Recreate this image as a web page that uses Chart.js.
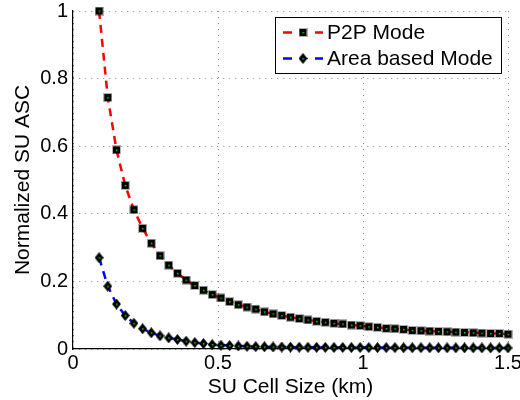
<!DOCTYPE html>
<html><head><meta charset="utf-8">
<script src="https://cdn.jsdelivr.net/npm/chart.js@4/dist/chart.umd.min.js"></script>
<style>html,body{margin:0;padding:0;background:#fff}#wrap{width:520px;height:400px}</style>
</head><body><div id="wrap"><canvas id="c" width="520" height="400"></canvas></div>
<script>
const cellSize = [0.09,0.12,0.15,0.18,0.21,0.24,0.27,0.30,0.33,0.36,0.39,0.42,0.45,0.48,0.51,0.54,0.57,0.60,
  0.63,0.66,0.69,0.72,0.75,0.78,0.81,0.84,0.87,0.90,0.93,0.96,0.99,1.02,1.05,1.08,1.11,1.14,1.17,1.20,
  1.23,1.26,1.29,1.32,1.35,1.38,1.41,1.44,1.47,1.50];
const p2pMode = [1.000,0.744,0.589,0.484,0.412,0.357,0.313,0.276,0.248,0.224,0.204,0.188,0.174,0.161,0.151,0.140,0.131,0.124,
  0.118,0.110,0.104,0.099,0.094,0.090,0.086,0.082,0.079,0.076,0.074,0.071,0.069,0.066,0.064,0.061,0.060,0.058,0.055,0.054,
  0.053,0.052,0.051,0.050,0.049,0.048,0.047,0.046,0.046,0.044];
const areaMode = [0.270,0.186,0.133,0.099,0.076,0.060,0.048,0.039,0.033,0.028,0.023,0.019,0.016,0.013,0.011,0.010,0.009,0.008,
  0.0070,0.0065,0.0060,0.0058,0.0055,0.0053,0.0050,0.0049,0.0047,0.0046,0.0045,0.0044,0.0043,0.0042,0.0041,0.0040,0.0039,0.0038,0.0038,0.0037,
  0.0036,0.0036,0.0035,0.0035,0.0034,0.0034,0.0033,0.0033,0.0032,0.0032];
const seriesLabels = ['P2P Mode', 'Area based Mode'];
const xTicks = [0, 0.5, 1, 1.5];
const xTickLabels = ['0', '0.5', '1', '1.5'];
const yTicks = [0, 0.2, 0.4, 0.6, 0.8, 1];
const yTickLabels = ['0', '0.2', '0.4', '0.6', '0.8', '1'];
const xTitle = 'SU Cell Size (km)';
const yTitle = 'Normalized SU ASC';

const FONT = "'Liberation Sans', Arial, Helvetica, sans-serif";
Chart.defaults.font.family = FONT;
Chart.defaults.color = '#000';

function makeSquare() {
  const c = document.createElement('canvas'); c.width = 9; c.height = 9;
  const g = c.getContext('2d');
  g.fillStyle = 'rgba(0,0,0,0.3)'; g.fillRect(0, 0, 9, 9);
  g.fillStyle = '#000'; g.fillRect(1, 1, 7, 7);
  g.fillStyle = '#00e000'; g.fillRect(4, 4, 1.5, 1.5);
  return c;
}
function makeDiamond() {
  const c = document.createElement('canvas'); c.width = 9; c.height = 11;
  const g = c.getContext('2d');
  g.fillStyle = '#000';
  g.beginPath(); g.moveTo(4.5, 0); g.lineTo(9, 5.5); g.lineTo(4.5, 11); g.lineTo(0, 5.5); g.closePath(); g.fill();
  g.fillStyle = '#00e000'; g.fillRect(4, 5, 1.5, 1.5);
  return c;
}
const sq = makeSquare();
const dm = makeDiamond();

const boxLegend = {
  id: 'boxLegend',
  afterDraw(chart) {
    const ctx = chart.ctx;
    const x0 = 275.5, y0 = 17.5, w = 226, h = 56;
    ctx.save();
    ctx.fillStyle = '#fff'; ctx.fillRect(x0, y0, w, h);
    ctx.strokeStyle = '#000'; ctx.lineWidth = 1; ctx.strokeRect(x0, y0, w, h);
    chart.data.datasets.forEach((ds, i) => {
      const cy = 32.5 + i * 26;
      ctx.strokeStyle = ds.borderColor; ctx.lineWidth = 2.5; ctx.setLineDash([]);
      ctx.beginPath(); ctx.moveTo(283, cy); ctx.lineTo(292, cy); ctx.moveTo(315, cy); ctx.lineTo(323, cy); ctx.stroke();
      const img = ds.pointStyle;
      ctx.drawImage(img, 303 - img.width / 2, cy - img.height / 2);
      ctx.fillStyle = '#000'; ctx.font = '21px ' + FONT; ctx.textBaseline = 'middle'; ctx.textAlign = 'left';
      ctx.fillText(ds.label, 327, cy + 1);
    });
    ctx.restore();
  }
};

new Chart(document.getElementById('c'), {
  type: 'line',
  data: {
    datasets: [
      { label: seriesLabels[0], data: cellSize.map((x, i) => ({ x: x, y: p2pMode[i] })),
        borderColor: '#ff0000', borderWidth: 2.5, borderDash: [8, 6], pointStyle: sq, pointRadius: 4,
        tension: 0, fill: false, clip: false },
      { label: seriesLabels[1], data: cellSize.map((x, i) => ({ x: x, y: areaMode[i] })),
        borderColor: '#0000ff', borderWidth: 2.5, borderDash: [8, 6], pointStyle: dm, pointRadius: 4,
        tension: 0, fill: false, clip: false }
    ]
  },
  options: {
    responsive: false, animation: false, devicePixelRatio: 1,
    layout: { padding: { left: 0, top: 11, right: 12, bottom: 0 } },
    plugins: { legend: { display: false }, tooltip: { enabled: false } },
    scales: {
      x: {
        type: 'linear', min: 0, max: 1.5,
        afterBuildTicks: s => { s.ticks = xTicks.map(v => ({ value: v })); },
        afterFit: s => { s.height = 51; s.paddingRight = 0; s.paddingLeft = 0; },
        grid: { color: '#8a8a8a', lineWidth: 1, drawTicks: false },
        border: { color: '#000', width: 1.2, dash: [1, 5] },
        ticks: { color: '#000', font: { size: 20 }, padding: 2, maxRotation: 0, autoSkip: false,
                 callback: (v, i) => xTickLabels[i] },
        title: { display: true, text: xTitle, color: '#000', font: { size: 21 }, padding: { top: 0, bottom: 0 } }
      },
      y: {
        type: 'linear', min: 0, max: 1,
        afterBuildTicks: s => { s.ticks = yTicks.map(v => ({ value: v })); },
        afterFit: s => { s.width = 73; s.paddingTop = 0; s.paddingBottom = 0; },
        grid: { color: '#8a8a8a', lineWidth: 1, drawTicks: false },
        border: { color: '#000', width: 1.2, dash: [1, 5] },
        ticks: { color: '#000', font: { size: 20 }, padding: 5, autoSkip: false,
                 callback: (v, i) => yTickLabels[i] },
        title: { display: true, text: yTitle, color: '#000', font: { size: 21 }, padding: { top: 11, bottom: 0 } }
      }
    }
  },
  plugins: [boxLegend]
});
</script>
</body></html>
